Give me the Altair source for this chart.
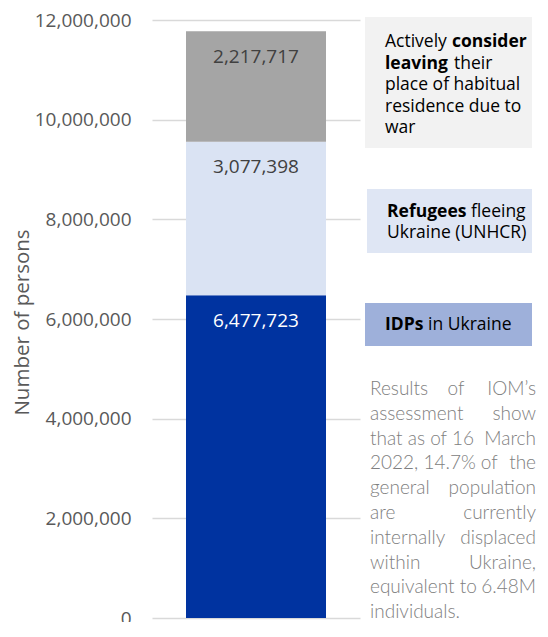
import altair as alt
import pandas as pd

# ---- data ----
categories = ["IDPs in Ukraine", "Refugees fleeing Ukraine (UNHCR)", "Actively consider leaving"]
values = [6477723, 3077398, 2217717]
bar_colors = ["#0033a0", "#dae3f3", "#a5a5a5"]
label_colors = ["#ffffff", "#404040", "#404040"]
y_ticks = [0, 2000000, 4000000, 6000000, 8000000, 10000000, 12000000]

df = pd.DataFrame({
    "group": ["total"] * len(values),
    "category": categories,
    "value": values,
    "order": list(range(len(values))),
    "label": [f"{v:,}" for v in values],
    "lcolor": label_colors,
})

W, H = 208, 598
FONT = "Open Sans"

base = alt.Chart(df)
yscale = alt.Scale(domain=[0, 12000000], nice=False)

bars = base.mark_bar(size=140).encode(
    x=alt.X("group:N", axis=None),
    y=alt.Y(
        "value:Q",
        stack="zero",
        scale=yscale,
        axis=alt.Axis(
            values=y_ticks,
            format=",d",
            title="Number of persons",
            titleFont=FONT,
            titleFontSize=20.5,
            titleFontWeight="normal",
            titleColor="#595959",
            titleX=-130,
            titleY=302,
            titleAlign="center",
            titleBaseline="middle",
            labelFont=FONT,
            labelFontSize=19,
            labelColor="#595959",
            labelPadding=21,
            ticks=False,
            tickSize=0,
            domain=False,
            grid=True,
            gridColor="#d9d9d9",
            gridWidth=1.5,
        ),
    ),
    color=alt.Color("category:N", scale=alt.Scale(domain=categories, range=bar_colors), legend=None),
    order=alt.Order("order:Q"),
)

labels = base.transform_stack(
    stack="value", groupby=["group"], sort=[alt.SortField("order")], as_=["v0", "v1"]
).mark_text(font=FONT, fontSize=19, baseline="middle", align="center", dy=25.5).encode(
    x=alt.X("group:N", axis=None),
    y=alt.Y("v1:Q", scale=yscale),
    text="label:N",
    color=alt.Color("lcolor:N", scale=None),
)

layers = [bars, labels]

one = pd.DataFrame({"k": [0]})


def box(x1, x2, y1, y2, fill):
    return alt.Chart(one).mark_rect(color=fill, clip=False).encode(
        x=alt.value(x1), x2=alt.value(x2), y=alt.value(y1), y2=alt.value(y2)
    )


def txt(s, x, y, bold=False, align="left", color="#000000", size=17.5, font=FONT, weight=None):
    w = "bold" if bold else (weight if weight is not None else "normal")
    return alt.Chart(pd.DataFrame({"t": [s]})).mark_text(
        font=font, fontSize=size, fontWeight=w, align=align, baseline="middle", color=color, clip=False
    ).encode(x=alt.value(x), y=alt.value(y), text="t:N")


RIGHT = 380  # right edge of annotation boxes (plot coords)

# annotation boxes
layers += [
    box(213, RIGHT, -3, 128, "#f2f2f2"),
    box(215, RIGHT, 169, 233, "#dfe6f4"),
    box(213, RIGHT, 283, 326, "#9eb0da"),
]

# box 1 text
layers += [
    txt("Actively", 233, 22),
    txt("consider", 300, 22, bold=True),
    txt("leaving", 233, 43.5, bold=True),
    txt("their", 302, 43.5),
    txt("place of habitual", 233, 65),
    txt("residence due to", 233, 86.5),
    txt("war", 233, 108),
]
# box 2 text
layers += [
    txt("Refugees", 235, 192, bold=True),
    txt("fleeing", 319, 192),
    txt("Ukraine (UNHCR)", 235, 213),
]
# box 3 text
layers += [
    txt("IDPs", 233, 305, bold=True),
    txt("in Ukraine", 276, 305),
]

# justified note
note_lines = [
    ["Results", "of", "IOM\u2019s"],
    ["assessment", "show"],
    ["that as of 16", "March"],
    ["2022, 14.7% of", "the"],
    ["general", "population"],
    ["are", "currently"],
    ["internally", "displaced"],
    ["within", "Ukraine,"],
    ["equivalent to", "6.48M"],
    ["individuals."],
]
L, R = 218, 384
NOTE_COLOR = "#808080"
for i, words in enumerate(note_lines):
    yy = 369 + 24.8 * i
    kw = dict(color=NOTE_COLOR, size=19, font="Lato", weight=300)
    if len(words) == 1:
        layers.append(txt(words[0], L, yy, **kw))
    elif len(words) == 2:
        layers.append(txt(words[0], L, yy, **kw))
        layers.append(txt(words[1], R, yy, align="right", **kw))
    else:
        layers.append(txt(words[0], L, yy, **kw))
        layers.append(txt(words[1], 304, yy, align="center", **kw))
        layers.append(txt(words[2], R, yy, align="right", **kw))

chart = alt.layer(*layers).properties(
    width=W,
    height=H,
    background="#ffffff",
    autosize=alt.AutoSizeParams(type="none"),
    padding={"left": 144, "top": 12, "right": 180, "bottom": 4},
).configure_view(strokeWidth=0, stroke="transparent")

chart.save("out.html", embed_options={"renderer": "svg", "actions": False})
